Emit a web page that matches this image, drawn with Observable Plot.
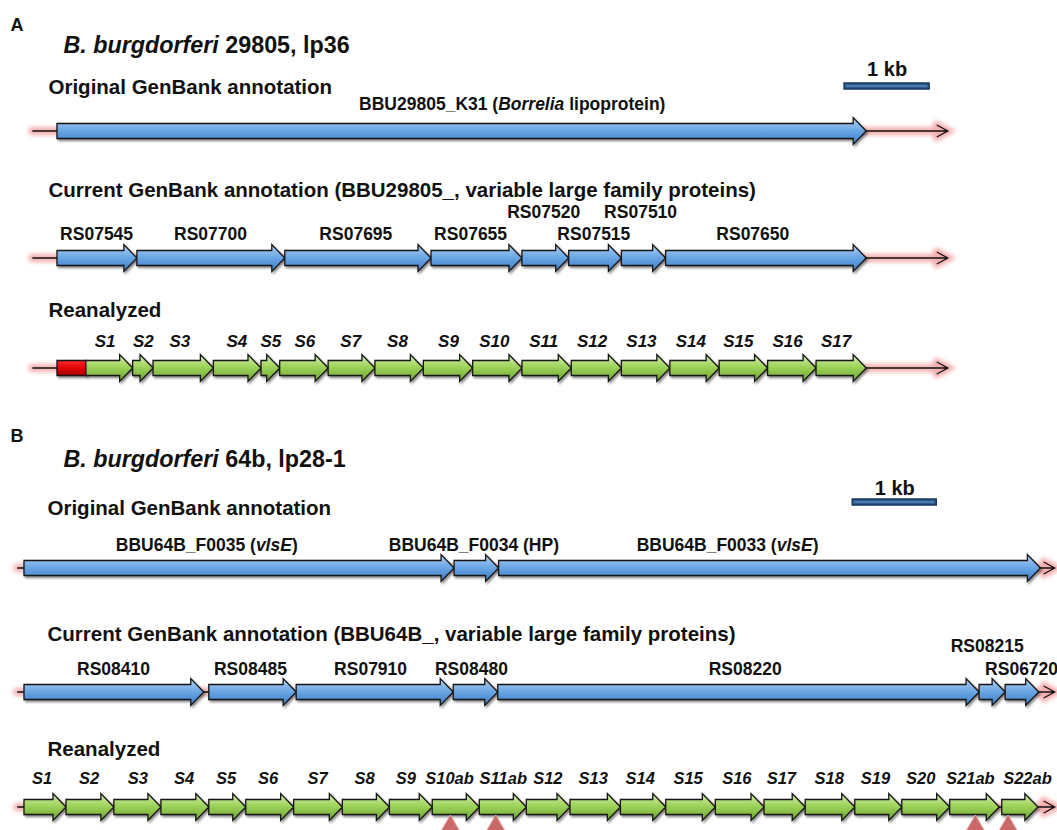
<!DOCTYPE html>
<html><head><meta charset="utf-8">
<script src="https://cdn.jsdelivr.net/npm/d3@7"></script>
<script src="https://cdn.jsdelivr.net/npm/@observablehq/plot@0.6"></script>
<style>
html,body{margin:0;padding:0;background:#fff;overflow:hidden;}
#chart{width:1057px;height:830px;}
#chart svg{display:block;}
</style></head><body><div id="chart"></div>
<script>
// ================= DATA (positions in kb) =================
// Panel A : B. burgdorferi 29805, lp36
const aTitle = "*B. burgdorferi* 29805, lp36";
const aOrigNames = ["BBU29805_K31 (*Borrelia* lipoprotein)"];
const aOrigStarts = [0];
const aOrigEnds = [9.52];
const aOrigLabelAt = [5.35];
const aCurNames = ["RS07545","RS07700","RS07695","RS07655","RS07520","RS07515","RS07510","RS07650"];
const aCurBounds = [0, 0.94, 2.68, 4.40, 5.47, 6.02, 6.64, 7.16, 9.52];
const aCurLabelAt = [0.46, 1.80, 3.51, 4.86, 5.72, 6.31, 6.86, 8.18];
const aCurRaised = ["RS07520", "RS07510"];
const aReaNames = ["S1","S2","S3","S4","S5","S6","S7","S8","S9","S10","S11","S12","S13","S14","S15","S16","S17"];
const aReaBounds = [0.34, 0.89, 1.13, 1.84, 2.40, 2.62, 3.19, 3.74, 4.31, 4.89, 5.47, 6.05, 6.64, 7.21, 7.79, 8.36, 8.93, 9.52];
const aReaLabelAt = [0.56, 1.01, 1.44, 2.11, 2.51, 2.91, 3.45, 4.00, 4.60, 5.14, 5.72, 6.29, 6.87, 7.45, 8.01, 8.59, 9.16];
const aRedBox = [0, 0.34];
const aBackbone = [-0.29, 10.48];
const aScaleBar = [9.26, 10.26];

// Panel B : B. burgdorferi 64b, lp28-1
const bTitle = "*B. burgdorferi* 64b, lp28-1";
const bOrigNames = ["BBU64B_F0035 (*vlsE*)", "BBU64B_F0034 (HP)", "BBU64B_F0033 (*vlsE*)"];
const bOrigBounds = [0, 5.12, 5.65, 12.10];
const bOrigLabelAt = [2.17, 5.35, 8.37];
const bCurNames = ["RS08410","RS08485","RS07910","RS08480","RS08220","RS08215","RS06720"];
const bCurStarts = [0, 2.20, 3.24, 5.11, 5.64, 11.37, 11.68];
const bCurEnds = [2.14, 3.24, 5.11, 5.64, 11.37, 11.68, 12.08];
const bCurLabelAt = [1.06, 2.69, 4.12, 5.32, 8.58, 11.46, 11.87];
const bCurRaised = ["RS08215"];
const bReaNames = ["S1","S2","S3","S4","S5","S6","S7","S8","S9","S10ab","S11ab","S12","S13","S14","S15","S16","S17","S18","S19","S20","S21ab","S22ab"];
const bReaStarts = [0, 0.50, 1.07, 1.63, 2.20, 2.64, 3.21, 3.79, 4.35, 4.86, 5.42, 5.98, 6.50, 7.10, 7.64, 8.23, 8.81, 9.30, 9.89, 10.45, 11.02, 11.64];
const bReaEnds   = [0.50, 1.07, 1.63, 2.20, 2.64, 3.21, 3.79, 4.35, 4.86, 5.42, 5.98, 6.50, 7.10, 7.64, 8.23, 8.81, 9.30, 9.89, 10.45, 11.02, 11.61, 12.07];
const bReaLabelAt = [0.21, 0.77, 1.35, 1.90, 2.40, 2.90, 3.49, 4.05, 4.54, 5.06, 5.70, 6.23, 6.77, 7.33, 7.90, 8.48, 9.01, 9.58, 10.13, 10.67, 11.26, 11.94];
const bMarkers = [5.07, 5.61, 11.32, 11.71];
const bBackbone = [-0.08, 12.27];
const bScaleBar = [9.86, 10.86];

// ================= HELPERS =================
const FONT = "'Liberation Sans', Arial, Helvetica, sans-serif";

function makeGenes(names, starts, ends, labelAt) {
  return names.map((name, i) => ({
    name, start: starts[i], end: ends[i],
    label: labelAt ? labelAt[i] : (starts[i] + ends[i]) / 2
  }));
}
const fromBounds = (names, bounds, labelAt) => makeGenes(names, bounds.slice(0, -1), bounds.slice(1), labelAt);

function defsMark(p) {
  return () => {
    const defs = d3.create("svg:defs");
    const grad = (id, stops) => {
      const lg = defs.append("linearGradient").attr("id", p + id).attr("x1", 0).attr("y1", 0).attr("x2", 0).attr("y2", 1);
      stops.forEach(([o, c]) => lg.append("stop").attr("offset", o).attr("stop-color", c));
    };
    grad("blue", [[0, "#b0d1f3"], [0.45, "#6ea9e6"], [1, "#3a7bc9"]]);
    grad("green", [[0, "#d3ecae"], [0.45, "#9fd45c"], [1, "#6aa52e"]]);
    grad("red", [[0, "#ff3030"], [0.5, "#e00000"], [1, "#a80000"]]);
    const sh = defs.append("filter").attr("id", p + "shadow").attr("x", "-5%").attr("y", "-40%").attr("width", "115%").attr("height", "200%");
    sh.append("feDropShadow").attr("dx", 1.5).attr("dy", 2).attr("stdDeviation", 1.3).attr("flood-color", "#000").attr("flood-opacity", 0.45);
    const gl = defs.append("filter").attr("id", p + "glow").attr("x", "-5%").attr("y", "-300%").attr("width", "110%").attr("height", "700%");
    gl.append("feGaussianBlur").attr("stdDeviation", 2);
    return defs.node();
  };
}

function backboneMark(p, range, rows) {
  return (index, scales) => {
    const g = d3.create("svg:g");
    const x1 = scales.x(range[0]), x2 = scales.x(range[1]);
    for (const r of rows) {
      const cy = scales.y(r);
      const d = `M${x1},${cy}H${x2}M${x2 - 11},${cy - 6}L${x2},${cy}L${x2 - 11},${cy + 6}`;
      g.append("path").attr("d", d).attr("fill", "none").attr("stroke", "#f29494")
        .attr("stroke-width", 8).attr("stroke-opacity", 0.75).attr("stroke-linecap", "round").attr("filter", `url(#${p}glow)`);
      g.append("path").attr("d", d).attr("fill", "none").attr("stroke", "#111").attr("stroke-width", 1.3);
    }
    return g.node();
  };
}

function arrowMark(p, genes, rowY, fill, head = true) {
  const bodyH = 7.5, headH = 13.5, headLen = 13;
  return (index, scales) => {
    const g = d3.create("svg:g").attr("filter", `url(#${p}shadow)`);
    const cy = scales.y(rowY);
    for (const d of genes) {
      const x1 = scales.x(d.start), x2 = scales.x(d.end);
      let pts;
      if (head) {
        const hl = Math.min(headLen, (x2 - x1) * 0.7);
        const xb = x2 - hl;
        pts = [[x1, cy - bodyH], [xb, cy - bodyH], [xb, cy - headH], [x2, cy], [xb, cy + headH], [xb, cy + bodyH], [x1, cy + bodyH]];
      } else {
        pts = [[x1, cy - bodyH], [x2, cy - bodyH], [x2, cy + bodyH], [x1, cy + bodyH]];
      }
      g.append("path").attr("d", "M" + pts.map(q => q.join(",")).join("L") + "Z")
        .attr("fill", `url(#${p}${fill})`).attr("stroke", "#141414").attr("stroke-width", 1.3);
    }
    return g.node();
  };
}

function scaleBarMark(range, rowY) {
  return (index, scales) => {
    const g = d3.create("svg:g");
    const x1 = scales.x(range[0]), x2 = scales.x(range[1]), cy = scales.y(rowY);
    g.append("rect").attr("x", x1).attr("y", cy - 3).attr("width", x2 - x1).attr("height", 6)
      .attr("fill", "#2b5a8e").attr("stroke", "#17375e").attr("stroke-width", 1.5);
    g.append("line").attr("x1", x1 + 2).attr("x2", x2 - 2).attr("y1", cy).attr("y2", cy)
      .attr("stroke", "#6f98c8").attr("stroke-width", 1.2);
    return g.node();
  };
}

const heading = (txt, dx, dy, size, extra = {}) =>
  Plot.text([txt], {text: d => d, frameAnchor: "top-left", dx, dy, textAnchor: "start", lineAnchor: "middle",
    fontSize: size, fontWeight: "bold", fill: "#111", ...extra});

function richify(svg) {
  svg.querySelectorAll("text").forEach(t => {
    const s = t.textContent;
    if (!s.includes("*")) return;
    t.textContent = "";
    s.split("*").forEach((part, i) => {
      if (!part) return;
      const ts = document.createElementNS("http://www.w3.org/2000/svg", "tspan");
      ts.textContent = part;
      if (i % 2 === 1) ts.setAttribute("font-style", "italic");
      t.appendChild(ts);
    });
  });
}

// ================= PANEL A =================
const aOrig = makeGenes(aOrigNames, aOrigStarts, aOrigEnds, aOrigLabelAt);
const aCur = fromBounds(aCurNames, aCurBounds, aCurLabelAt);
const aRea = fromBounds(aReaNames, aReaBounds, aReaLabelAt);
const aRed = [{name: "", start: aRedBox[0], end: aRedBox[1]}];

const plotA = Plot.plot({
  width: 1057, height: 420, margin: 0,
  x: {domain: [-57 / 85, 1000 / 85], range: [0, 1057], axis: null},
  y: {domain: [0, 420], range: [0, 420], axis: null},
  style: {fontFamily: FONT, background: "white"},
  marks: [
    defsMark("a"),
    backboneMark("a", aBackbone, [131, 258, 368]),
    arrowMark("a", aOrig, 131, "blue"),
    arrowMark("a", aCur, 258, "blue"),
    arrowMark("a", aRed, 368, "red", false),
    arrowMark("a", aRea, 368, "green"),
    scaleBarMark(aScaleBar, 86),
    Plot.text(["1 kb"], {x: () => (aScaleBar[0] + aScaleBar[1]) / 2, y: () => 69, text: d => d, fontSize: 20, fontWeight: "bold", fill: "#111"}),
    heading("A", 10, 25, 18),
    heading(aTitle, 63, 45, 23.3),
    heading("Original GenBank annotation", 48, 87, 20.5),
    heading("Current GenBank annotation (BBU29805_, variable large family proteins)", 48, 190, 20.5),
    heading("Reanalyzed", 48, 310, 20.5),
    Plot.text(aOrig, {x: "label", y: () => 104, text: "name", fontSize: 17.5, fontWeight: "bold", fill: "#111"}),
    Plot.text(aCur, {x: "label", y: d => aCurRaised.includes(d.name) ? 212 : 234, text: "name", fontSize: 17.5, fontWeight: "bold", fill: "#111"}),
    Plot.text(aRea, {x: "label", y: () => 341, text: "name", fontSize: 17, fontWeight: "bold", fontStyle: "italic", fill: "#111"})
  ]
});

// ================= PANEL B =================
const bOrig = fromBounds(bOrigNames, bOrigBounds, bOrigLabelAt);
const bCur = makeGenes(bCurNames, bCurStarts, bCurEnds, bCurLabelAt);
const bRea = makeGenes(bReaNames, bReaStarts, bReaEnds, bReaLabelAt);

const plotB = Plot.plot({
  width: 1057, height: 410, margin: 0,
  x: {domain: [-24 / 84, 1033 / 84], range: [0, 1057], axis: null},
  y: {domain: [0, 410], range: [0, 410], axis: null},
  style: {fontFamily: FONT, background: "white"},
  marks: [
    defsMark("b"),
    backboneMark("b", bBackbone, [148, 272, 387]),
    arrowMark("b", bOrig, 148, "blue"),
    arrowMark("b", bCur, 272, "blue"),
    arrowMark("b", bRea, 387, "green"),
    scaleBarMark(bScaleBar, 82),
    Plot.text(["1 kb"], {x: () => (bScaleBar[0] + bScaleBar[1]) / 2, y: () => 68, text: d => d, fontSize: 20, fontWeight: "bold", fill: "#111"}),
    heading("B", 10, 16, 18),
    heading(bTitle, 63, 39, 23.3),
    heading("Original GenBank annotation", 47, 88, 20.5),
    heading("Current GenBank annotation (BBU64B_, variable large family proteins)", 47, 214, 20.5),
    heading("Reanalyzed", 47, 329, 20.5),
    Plot.text(bOrig, {x: "label", y: () => 125, text: "name", fontSize: 17.5, fontWeight: "bold", fill: "#111"}),
    Plot.text(bCur, {x: "label", y: d => bCurRaised.includes(d.name) ? 226 : 249, text: "name", fontSize: 17.5, fontWeight: "bold", fill: "#111"}),
    Plot.text(bRea, {x: "label", y: () => 358, text: "name", fontSize: 16.5, fontWeight: "bold", fontStyle: "italic", fill: "#111"}),
    Plot.dot(bMarkers, {x: d => d, y: () => 410, symbol: "triangle", r: 10, fill: "#c0504d", fillOpacity: 0.85, stroke: "#e8a0a0", strokeWidth: 1})
  ]
});

richify(plotA);
richify(plotB);
document.getElementById("chart").append(plotA, plotB);
</script>
</body></html>
